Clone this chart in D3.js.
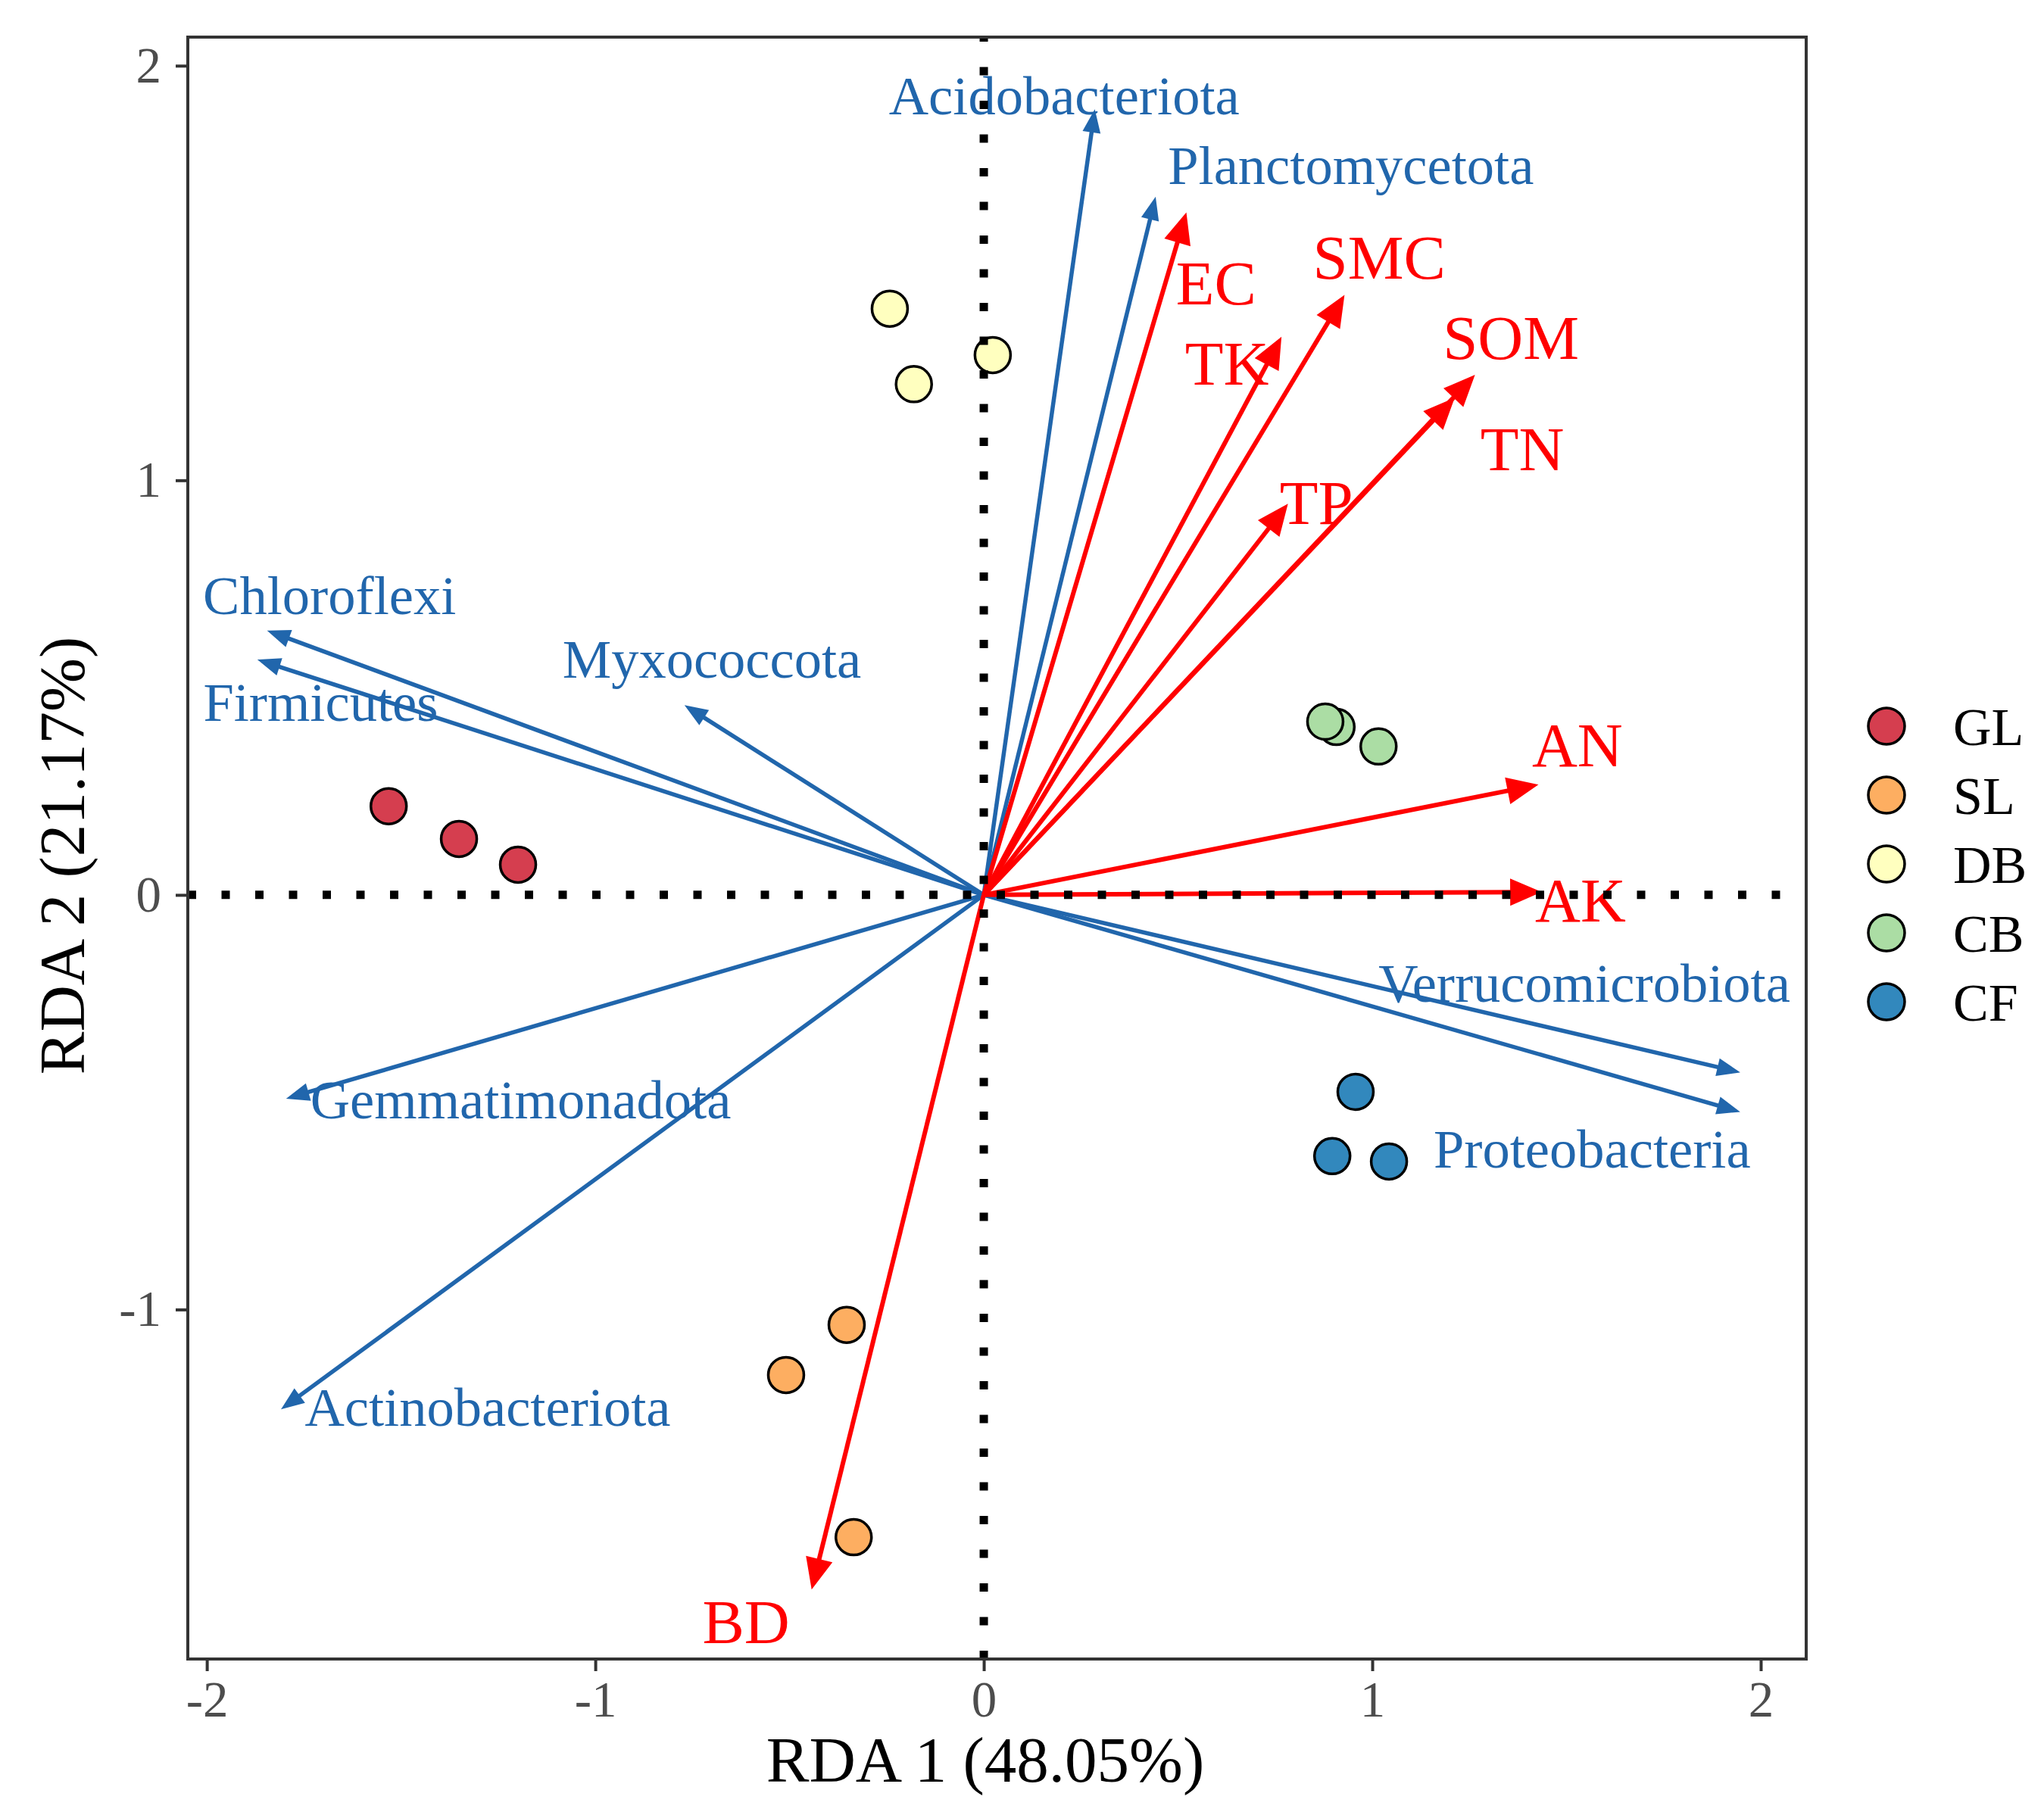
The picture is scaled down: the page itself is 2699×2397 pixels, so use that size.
<!DOCTYPE html>
<html>
<head>
<meta charset="utf-8">
<script src="https://cdn.jsdelivr.net/npm/d3@7"></script>
<style>
  html, body { margin: 0; padding: 0; background: #fff; }
  svg text { font-family: 'Liberation Serif', 'Times New Roman', serif; }
</style>
</head>
<body>
<svg id="chart" width="2699" height="2397"></svg>
<script>
// ---------------- data ----------------
const groups = ["GL", "SL", "DB", "CB", "CF"];
const groupColors = ["#D53E4F", "#FDAE61", "#FFFFBF", "#ABDDA4", "#3288BD"];

const siteGroup = ["GL","GL","GL","SL","SL","SL","DB","DB","DB","CB","CB","CB","CF","CF","CF"];
const siteRDA1  = [-1.532,-1.351,-1.199, -0.353,-0.509,-0.335, -0.242,-0.180,0.023, 0.908,0.879,1.016, 0.957,0.897,1.043];
const siteRDA2  = [ 0.214, 0.135, 0.073, -1.037,-1.158,-1.549,  1.414, 1.232,1.302, 0.405,0.418,0.358, -0.475,-0.630,-0.643];

const speciesNames = ["Acidobacteriota","Planctomycetota","Chloroflexi","Firmicutes","Myxococcota",
                      "Gemmatimonadota","Actinobacteriota","Verrucomicrobiota","Proteobacteria"];
const speciesRDA1 = [0.285, 0.441, -1.840, -1.865, -0.766, -1.791, -1.805, 1.942, 1.942];
const speciesRDA2 = [1.890, 1.679,  0.636,  0.566,  0.455, -0.490, -1.238, -0.427, -0.522];
const speciesLabelRDA1 = [0.207, 0.945, -1.684, -1.707, -0.700, -1.192, -1.277, 1.546, 1.566];
const speciesLabelRDA2 = [1.927, 1.759,  0.721,  0.464,  0.568, -0.495, -1.237, -0.214, -0.614];

const envNames = ["EC","TK","SMC","SOM","TN","TP","AN","AK","BD"];
const envRDA1 = [0.520, 0.764, 0.926, 1.261, 1.209, 0.780, 1.423, 1.431, -0.442];
const envRDA2 = [1.642, 1.342, 1.443, 1.251, 1.196, 0.940, 0.265, 0.007, -1.671];
const envLabelRDA1 = [0.598, 0.626, 1.018, 1.357, 1.386, 0.856, 1.528, 1.536, -0.612];
const envLabelRDA2 = [1.475, 1.281, 1.537, 1.342, 1.075, 0.945, 0.360, -0.015, -1.754];

const xTicks = [-2, -1, 0, 1, 2];
const yTicks = [-1, 0, 1, 2];
const xTitle = "RDA 1 (48.05%)";
const yTitle = "RDA 2 (21.17%)";

// ---------------- layout ----------------
const panel = { left: 248, right: 2385, top: 49, bottom: 2191 };
const xDomain = [-2.049, 2.117];
const yDomain = [-1.843, 2.069];
const blue = "#2166AC";
const red = "#FF0000";
const FONT = "'Liberation Serif', 'Times New Roman', serif";

const svg = d3.select("#chart");
const x = d3.scaleLinear().domain(xDomain).range([panel.left, panel.right]);
const y = d3.scaleLinear().domain(yDomain).range([panel.bottom, panel.top]);
const color = d3.scaleOrdinal().domain(groups).range(groupColors);

svg.append("rect").attr("width", 2699).attr("height", 2397).attr("fill", "#fff");

const clipId = "panelClip";
svg.append("defs").append("clipPath").attr("id", clipId)
  .append("rect").attr("x", panel.left).attr("y", panel.top)
  .attr("width", panel.right - panel.left).attr("height", panel.bottom - panel.top);

const plot = svg.append("g").attr("clip-path", `url(#${clipId})`);

// points
const sites = siteGroup.map((g, i) => ({ g, x: siteRDA1[i], y: siteRDA2[i] }));
plot.append("g").selectAll("circle").data(sites).join("circle")
  .attr("cx", d => x(d.x)).attr("cy", d => y(d.y)).attr("r", 23.5)
  .attr("fill", d => color(d.g)).attr("stroke", "#000").attr("stroke-width", 3.5);

// labels
const species = speciesNames.map((n, i) => ({ n, x: speciesRDA1[i], y: speciesRDA2[i], lx: speciesLabelRDA1[i], ly: speciesLabelRDA2[i] }));
const envs = envNames.map((n, i) => ({ n, x: envRDA1[i], y: envRDA2[i], lx: envLabelRDA1[i], ly: envLabelRDA2[i] }));

plot.append("g").selectAll("text").data(species).join("text")
  .attr("x", d => x(d.lx)).attr("y", d => y(d.ly)).attr("dy", "0.33em")
  .attr("text-anchor", "middle").attr("font-size", 72.5).attr("fill", blue)
  .text(d => d.n);

plot.append("g").selectAll("text").data(envs).join("text")
  .attr("x", d => x(d.lx)).attr("y", d => y(d.ly)).attr("dy", "0.33em")
  .attr("text-anchor", "middle").attr("font-size", 83).attr("fill", red)
  .text(d => d.n);

// arrows
function drawArrows(data, col, lw, headLen, headHalf) {
  const g = plot.append("g");
  data.forEach(d => {
    const x0 = x(0), y0 = y(0), x1 = x(d.x), y1 = y(d.y);
    const len = Math.hypot(x1 - x0, y1 - y0);
    const ux = (x1 - x0) / len, uy = (y1 - y0) / len;
    const bx = x1 - ux * headLen, by = y1 - uy * headLen;
    const nx = -uy, ny = ux;
    g.append("line").attr("x1", x0).attr("y1", y0)
      .attr("x2", bx + ux * 4).attr("y2", by + uy * 4)
      .attr("stroke", col).attr("stroke-width", lw).attr("stroke-linecap", "butt");
    g.append("path")
      .attr("d", `M${x1},${y1}L${bx + nx * headHalf},${by + ny * headHalf}L${bx - nx * headHalf},${by - ny * headHalf}Z`)
      .attr("fill", col).attr("stroke", col).attr("stroke-width", 2).attr("stroke-linejoin", "miter");
  });
}
drawArrows(species, blue, 5.5, 27, 10.5);
drawArrows(envs, red, 6, 38, 16.5);

// zero lines (dotted)
plot.append("line")
  .attr("x1", panel.left).attr("x2", panel.right).attr("y1", y(0)).attr("y2", y(0))
  .attr("stroke", "#000").attr("stroke-width", 11).attr("stroke-dasharray", "11 33.5");
plot.append("line")
  .attr("x1", x(0)).attr("x2", x(0)).attr("y1", panel.bottom).attr("y2", panel.top)
  .attr("stroke", "#000").attr("stroke-width", 11).attr("stroke-dasharray", "11 33.5");

// panel border
svg.append("rect").attr("x", panel.left).attr("y", panel.top)
  .attr("width", panel.right - panel.left).attr("height", panel.bottom - panel.top)
  .attr("fill", "none").attr("stroke", "#333333").attr("stroke-width", 4);

// axes
const fmt = d => String(d);
const xAxis = svg.append("g").attr("transform", `translate(0,${panel.bottom})`)
  .call(d3.axisBottom(x).tickValues(xTicks).tickFormat(fmt).tickSize(16).tickPadding(12));
const yAxis = svg.append("g").attr("transform", `translate(${panel.left},0)`)
  .call(d3.axisLeft(y).tickValues(yTicks).tickFormat(fmt).tickSize(16).tickPadding(19));
[xAxis, yAxis].forEach(a => {
  a.select(".domain").remove();
  a.selectAll(".tick line").attr("stroke", "#333333").attr("stroke-width", 4);
  a.selectAll(".tick text").attr("fill", "#4D4D4D").attr("font-size", 67).attr("font-family", FONT);
});

// axis titles
svg.append("text").attr("x", 1301).attr("y", 2353).attr("text-anchor", "middle")
  .attr("font-size", 85).attr("fill", "#000").text(xTitle);
svg.append("text").attr("transform", "translate(111,1130) rotate(-90)").attr("text-anchor", "middle")
  .attr("font-size", 85).attr("fill", "#000").text(yTitle);

// legend
const legend = svg.append("g");
groups.forEach((gName, i) => {
  const cy = 959 + i * 91;
  legend.append("circle").attr("cx", 2491).attr("cy", cy).attr("r", 24)
    .attr("fill", color(gName)).attr("stroke", "#000").attr("stroke-width", 3.5);
  legend.append("text").attr("x", 2579).attr("y", cy).attr("dy", "0.35em")
    .attr("font-size", 70).attr("fill", "#000").text(gName);
});
</script>
</body>
</html>
